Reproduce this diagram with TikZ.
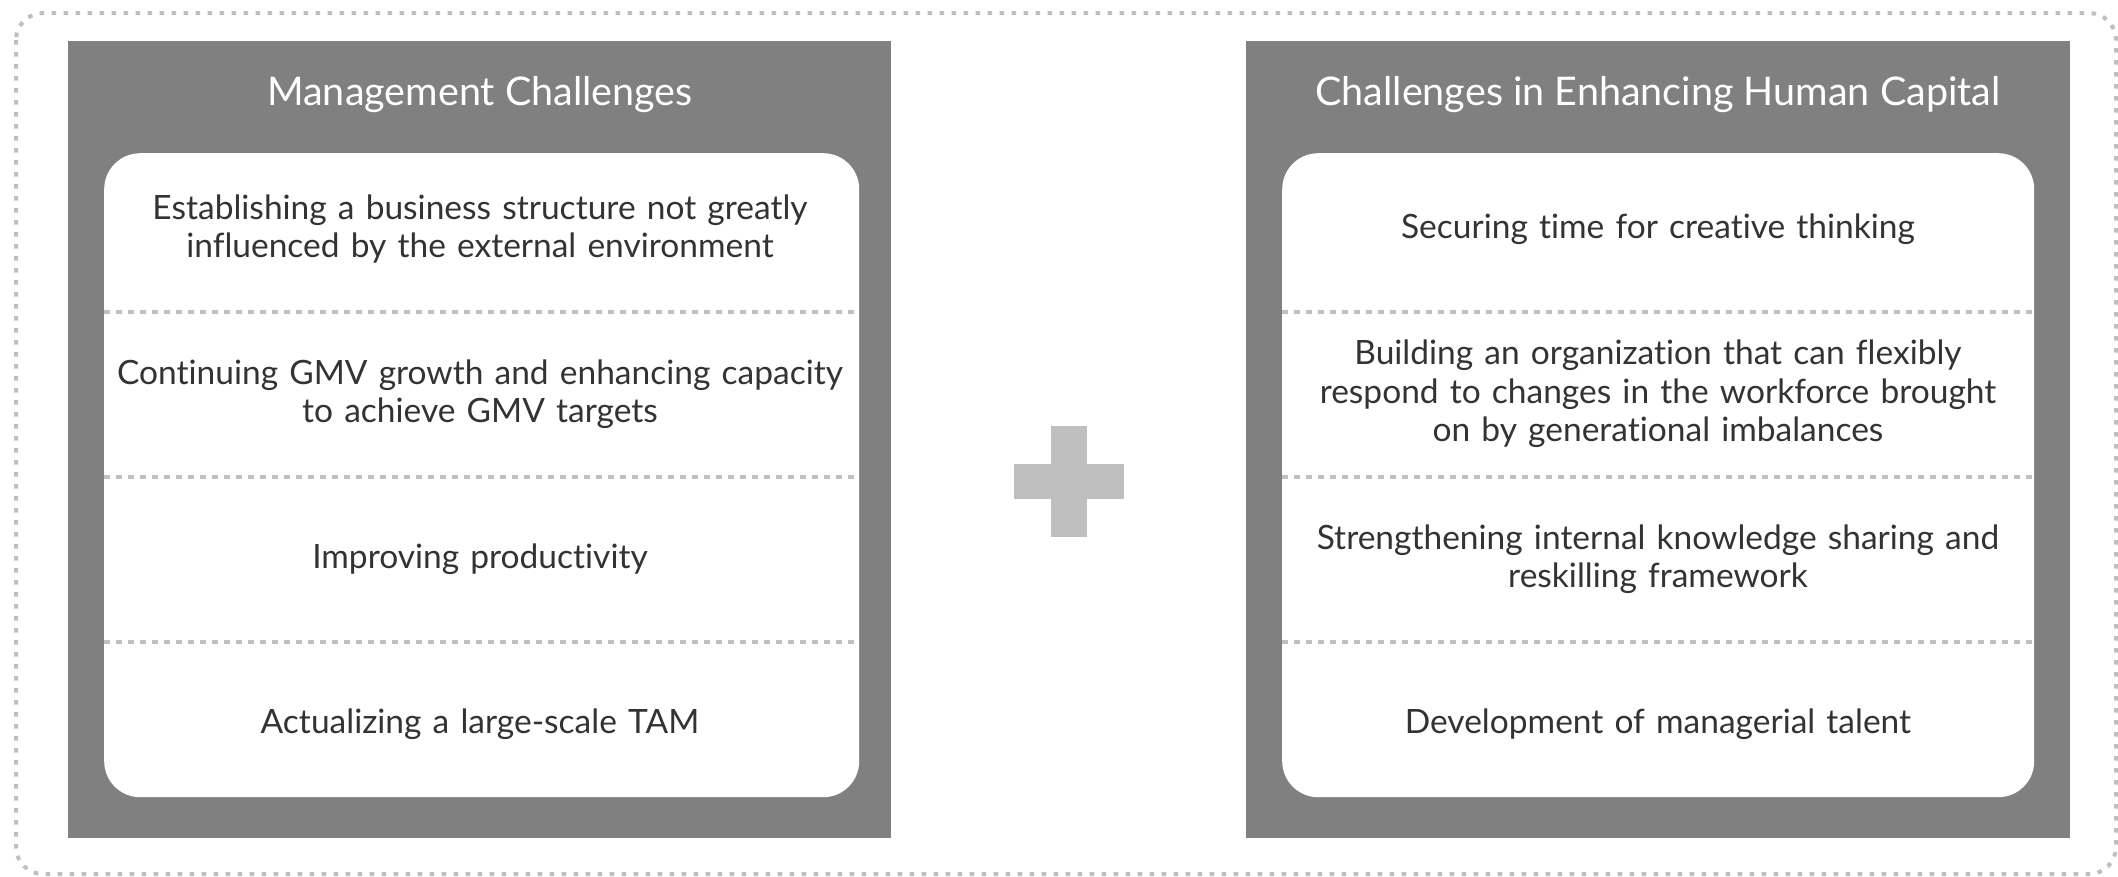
\documentclass[tikz,border=0pt]{standalone}
\usepackage{fontspec}
\setmainfont{Lato}[Ligatures=NoCommon]
\definecolor{boxgray}{HTML}{808080}
\definecolor{lightgray}{HTML}{BFBFBF}
\definecolor{txt}{HTML}{333333}
\tikzset{
  panel/.style={fill=boxgray, draw=none, anchor=north west, inner sep=0pt},
  card/.style={fill=white, draw=none, rounded corners=36pt, anchor=north west, inner sep=0pt},
  title/.style={text=white, font=\fontsize{39.5}{46}\selectfont, align=center},
  item/.style={text=txt, font=\fontsize{33.5}{38.5}\selectfont, align=center, text width=740pt},
  divider/.style={draw=lightgray, line width=4.5pt, dash pattern=on 6pt off 6pt},
  frame/.style={draw=lightgray, line width=4pt, dash pattern=on 4.5pt off 7.5pt, rounded corners=27pt},
  plusbar/.style={fill=lightgray, draw=none}
}
\begin{document}
\begin{tikzpicture}[x=1pt,y=-1pt]
\useasboundingbox (0,0) rectangle (2118,876);
\draw[frame] (16,13) rectangle (2116,874);

% left panel
\node[panel, minimum width=823pt, minimum height=797pt] (lp) at (68,41) {};
\node[card, minimum width=755pt, minimum height=644pt] (lc) at (104,153) {};
\node[title] (lt) at (480,95) {Management Challenges};
\coordinate (l1a) at (104,312); \coordinate (l1b) at (859,312);
\coordinate (l2a) at (104,477); \coordinate (l2b) at (859,477);
\coordinate (l3a) at (104,642); \coordinate (l3b) at (859,642);
\draw[divider] (l1a) -- (l1b);
\draw[divider] (l2a) -- (l2b);
\draw[divider] (l3a) -- (l3b);
\node[item] (li1) at (480,229) {Establishing a business structure not greatly\\influenced by the external environment};
\node[item] (li2) at (480,394) {Continuing GMV growth and enhancing capacity\\to achieve GMV targets};
\node[item] (li3) at (480,559) {Improving productivity};
\node[item] (li4) at (480,724) {Actualizing a large-scale TAM};

% plus
\node[plusbar, minimum width=110pt, minimum height=35pt, inner sep=0pt] (ph) at (1069,481.5) {};
\node[plusbar, minimum width=36pt, minimum height=111pt, inner sep=0pt] (pv) at (1069,481.5) {};

% right panel
\node[panel, minimum width=824pt, minimum height=797pt] (rp) at (1246,41) {};
\node[card, minimum width=752pt, minimum height=644pt] (rc) at (1282,153) {};
\node[title] (rt) at (1658,95) {Challenges in Enhancing Human Capital};
\coordinate (r1a) at (1282,312); \coordinate (r1b) at (2034,312);
\coordinate (r2a) at (1282,477); \coordinate (r2b) at (2034,477);
\coordinate (r3a) at (1282,642); \coordinate (r3b) at (2034,642);
\draw[divider] (r1a) -- (r1b);
\draw[divider] (r2a) -- (r2b);
\draw[divider] (r3a) -- (r3b);
\node[item] (ri1) at (1658,229) {Securing time for creative thinking};
\node[item] (ri2) at (1658,394) {Building an organization that can flexibly\\respond to changes in the workforce brought\\on by generational imbalances};
\node[item] (ri3) at (1658,559) {Strengthening internal knowledge sharing and\\reskilling framework};
\node[item] (ri4) at (1658,724) {Development of managerial talent};
\end{tikzpicture}
\end{document}
